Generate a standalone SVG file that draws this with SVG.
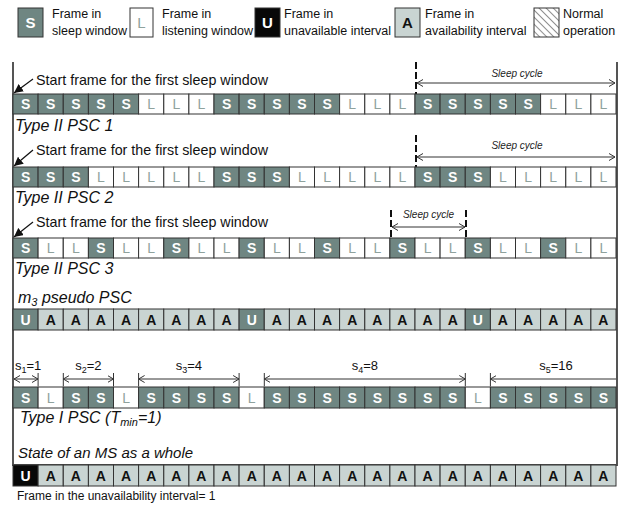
<svg xmlns="http://www.w3.org/2000/svg" width="624" height="506" viewBox="0 0 624 506">
<style>
text{font-family:"Liberation Sans",Arial,sans-serif}
.lg{font-size:12.5px;fill:#111}
.lbl{font-size:14.3px;fill:#111}
.it{font-style:italic;font-size:16px}
.sc{font-size:10px;font-style:italic;fill:#222;text-anchor:middle}
.sl{font-size:13px;fill:#111}
.c{stroke:#333;stroke-width:1}
.s{fill:#6f8682}.l{fill:#fff}.a{fill:#c9d4d2}.k{fill:#080808}
.t{font-size:14px;font-weight:bold;text-anchor:middle}
.ts{fill:#fff}.tl{fill:#8fa29d;font-weight:normal}.ta{fill:#111}
.fr{stroke:#555;stroke-width:2;fill:none}
.dl{stroke:#111;stroke-width:2;stroke-dasharray:7 3;fill:none}
.ar{stroke:#333;stroke-width:1;fill:none;marker-start:url(#oa);marker-end:url(#oa)}
.tk{stroke:#333;stroke-width:1}
</style>
<defs>
<marker id="oa" viewBox="0 0 6 8" refX="6" refY="4" markerWidth="6" markerHeight="8" markerUnits="userSpaceOnUse" orient="auto-start-reverse"><path d="M0,0.5 L6,4 L0,7.5" fill="none" stroke="#333" stroke-width="1"/></marker>
<marker id="fa" viewBox="0 0 10 10" refX="10" refY="5" markerWidth="9" markerHeight="9" markerUnits="userSpaceOnUse" orient="auto"><path d="M0,0 L10,5 L0,10 Z" fill="#111"/></marker>
<pattern id="hatch" width="5" height="5" patternUnits="userSpaceOnUse" patternTransform="rotate(-45)"><line x1="0" y1="0" x2="0" y2="5" stroke="#222" stroke-width="1"/></pattern>
</defs>
<rect width="624" height="506" fill="#fff"/>

<g id="legend">
<g id="leg-s"><rect class="c s" x="18" y="8" width="25" height="29"/><text class="t ts" x="30.5" y="28" style="font-size:15px">S</text><text class="lg" x="52" y="18">Frame in</text><text class="lg" x="52" y="35">sleep window</text></g>
<g id="leg-l"><rect class="c l" x="130" y="8" width="23" height="29"/><text class="t tl" x="141.5" y="28" style="font-size:15px">L</text><text class="lg" x="162" y="18">Frame in</text><text class="lg" x="162" y="35">listening window</text></g>
<g id="leg-u"><rect class="c k" x="255" y="8" width="25" height="29"/><text class="t ts" x="267.5" y="28" style="font-size:15px">U</text><text class="lg" x="284" y="18">Frame in</text><text class="lg" x="284" y="35">unavailable interval</text></g>
<g id="leg-a"><rect class="c a" x="395" y="8" width="25" height="29"/><text class="t ta" x="407.5" y="28" style="font-size:15px">A</text><text class="lg" x="425" y="18">Frame in</text><text class="lg" x="425" y="35">availability interval</text></g>
<g id="leg-n"><rect x="534" y="8" width="25" height="29" fill="url(#hatch)" stroke="#333"/><text class="lg" x="563" y="18">Normal</text><text class="lg" x="563" y="35">operation</text></g>
</g>

<g id="frame">
<path class="fr" d="M13,62 V465 H617 V62"/>
</g>

<g id="labels">
<text class="lbl" x="36" y="85">Start frame for the first sleep window</text>
<text class="lbl it" x="15" y="131">Type II PSC 1</text>
<text class="lbl" x="36" y="155">Start frame for the first sleep window</text>
<text class="lbl it" x="15" y="203">Type II PSC 2</text>
<text class="lbl" x="36" y="227">Start frame for the first sleep window</text>
<text class="lbl it" x="15" y="274">Type II PSC 3</text>
<text class="lbl it" x="18" y="303">m<tspan font-size="11" dy="3">3</tspan><tspan dy="-3"> pseudo PSC</tspan></text>
<text class="lbl it" x="20" y="423">Type I PSC (T<tspan font-size="11" dy="3">min</tspan><tspan dy="-3">=1)</tspan></text>
<text class="lbl it" x="18" y="458" style="font-size:15px">State of an MS as a whole</text>
<text class="lg" x="17" y="500" style="font-size:12px">Frame in the unavailability interval= 1</text>
</g>

<g id="connectors">
<line x1="33" y1="79" x2="14" y2="93" stroke="#111" stroke-width="1.2" marker-end="url(#fa)"/>
<line x1="33" y1="150" x2="14" y2="166" stroke="#111" stroke-width="1.2" marker-end="url(#fa)"/>
<line x1="33" y1="222" x2="14" y2="237" stroke="#111" stroke-width="1.2" marker-end="url(#fa)"/>
<line class="dl" x1="416" y1="62" x2="416" y2="94"/>
<line class="ar" x1="417" y1="83" x2="615" y2="83"/>
<text class="sc" x="517" y="77">Sleep cycle</text>
<line class="dl" x1="416" y1="135" x2="416" y2="167"/>
<line class="ar" x1="417" y1="157" x2="615" y2="157"/>
<text class="sc" x="517" y="149">Sleep cycle</text>
<line class="dl" x1="391" y1="210" x2="391" y2="238"/>
<line class="dl" x1="466" y1="210" x2="466" y2="238"/>
<line class="ar" x1="392" y1="227" x2="465" y2="227"/>
<text class="sc" x="428.5" y="218">Sleep cycle</text>
<line class="tk" x1="38.1" y1="373" x2="38.1" y2="386"/>
<line class="ar" x1="14" y1="379" x2="38" y2="379"/>
<line class="tk" x1="63.3" y1="373" x2="63.3" y2="386"/>
<line class="tk" x1="113.5" y1="373" x2="113.5" y2="386"/>
<line class="ar" x1="63.3" y1="379" x2="113.5" y2="379"/>
<line class="tk" x1="138.6" y1="373" x2="138.6" y2="386"/>
<line class="tk" x1="239.1" y1="373" x2="239.1" y2="386"/>
<line class="ar" x1="138.6" y1="379" x2="239.1" y2="379"/>
<line class="tk" x1="264.3" y1="373" x2="264.3" y2="386"/>
<line class="tk" x1="465.3" y1="373" x2="465.3" y2="386"/>
<line class="ar" x1="264.3" y1="379" x2="465.3" y2="379"/>
<line class="tk" x1="490.4" y1="373" x2="490.4" y2="386"/>
<line x1="490.4" y1="379" x2="616" y2="379" stroke="#333" stroke-width="1" marker-start="url(#oa)"/>
<text class="sl" x="15" y="370">s<tspan font-size="9" dy="3">1</tspan><tspan dy="-3">=1</tspan></text>
<text class="sl" x="88.4" y="370" text-anchor="middle">s<tspan font-size="9" dy="3">2</tspan><tspan dy="-3">=2</tspan></text>
<text class="sl" x="188.9" y="370" text-anchor="middle">s<tspan font-size="9" dy="3">3</tspan><tspan dy="-3">=4</tspan></text>
<text class="sl" x="364.8" y="370" text-anchor="middle">s<tspan font-size="9" dy="3">4</tspan><tspan dy="-3">=8</tspan></text>
<text class="sl" x="556" y="370" text-anchor="middle">s<tspan font-size="9" dy="3">5</tspan><tspan dy="-3">=16</tspan></text>
</g>

<g id="row1" transform="translate(0,94)">
<rect class="c s" x="13" width="25.1" height="20"/><text class="t ts" x="25.6" y="15">S</text>
<rect class="c s" x="38.1" width="25.1" height="20"/><text class="t ts" x="50.7" y="15">S</text>
<rect class="c s" x="63.3" width="25.1" height="20"/><text class="t ts" x="75.8" y="15">S</text>
<rect class="c s" x="88.4" width="25.1" height="20"/><text class="t ts" x="100.9" y="15">S</text>
<rect class="c s" x="113.5" width="25.1" height="20"/><text class="t ts" x="126.1" y="15">S</text>
<rect class="c l" x="138.6" width="25.1" height="20"/><text class="t tl" x="151.2" y="15">L</text>
<rect class="c l" x="163.8" width="25.1" height="20"/><text class="t tl" x="176.3" y="15">L</text>
<rect class="c l" x="188.9" width="25.1" height="20"/><text class="t tl" x="201.4" y="15">L</text>
<rect class="c s" x="214" width="25.1" height="20"/><text class="t ts" x="226.6" y="15">S</text>
<rect class="c s" x="239.1" width="25.1" height="20"/><text class="t ts" x="251.7" y="15">S</text>
<rect class="c s" x="264.3" width="25.1" height="20"/><text class="t ts" x="276.8" y="15">S</text>
<rect class="c s" x="289.4" width="25.1" height="20"/><text class="t ts" x="301.9" y="15">S</text>
<rect class="c s" x="314.5" width="25.1" height="20"/><text class="t ts" x="327.1" y="15">S</text>
<rect class="c l" x="339.6" width="25.1" height="20"/><text class="t tl" x="352.2" y="15">L</text>
<rect class="c l" x="364.8" width="25.1" height="20"/><text class="t tl" x="377.3" y="15">L</text>
<rect class="c l" x="389.9" width="25.1" height="20"/><text class="t tl" x="402.4" y="15">L</text>
<rect class="c s" x="415" width="25.1" height="20"/><text class="t ts" x="427.6" y="15">S</text>
<rect class="c s" x="440.1" width="25.1" height="20"/><text class="t ts" x="452.7" y="15">S</text>
<rect class="c s" x="465.3" width="25.1" height="20"/><text class="t ts" x="477.8" y="15">S</text>
<rect class="c s" x="490.4" width="25.1" height="20"/><text class="t ts" x="502.9" y="15">S</text>
<rect class="c s" x="515.5" width="25.1" height="20"/><text class="t ts" x="528.1" y="15">S</text>
<rect class="c l" x="540.6" width="25.1" height="20"/><text class="t tl" x="553.2" y="15">L</text>
<rect class="c l" x="565.8" width="25.1" height="20"/><text class="t tl" x="578.3" y="15">L</text>
<rect class="c l" x="590.9" width="25.1" height="20"/><text class="t tl" x="603.4" y="15">L</text>
</g>

<g id="row2" transform="translate(0,167)">
<rect class="c s" x="13" width="25.1" height="20"/><text class="t ts" x="25.6" y="15">S</text>
<rect class="c s" x="38.1" width="25.1" height="20"/><text class="t ts" x="50.7" y="15">S</text>
<rect class="c s" x="63.3" width="25.1" height="20"/><text class="t ts" x="75.8" y="15">S</text>
<rect class="c l" x="88.4" width="25.1" height="20"/><text class="t tl" x="100.9" y="15">L</text>
<rect class="c l" x="113.5" width="25.1" height="20"/><text class="t tl" x="126.1" y="15">L</text>
<rect class="c l" x="138.6" width="25.1" height="20"/><text class="t tl" x="151.2" y="15">L</text>
<rect class="c l" x="163.8" width="25.1" height="20"/><text class="t tl" x="176.3" y="15">L</text>
<rect class="c l" x="188.9" width="25.1" height="20"/><text class="t tl" x="201.4" y="15">L</text>
<rect class="c s" x="214" width="25.1" height="20"/><text class="t ts" x="226.6" y="15">S</text>
<rect class="c s" x="239.1" width="25.1" height="20"/><text class="t ts" x="251.7" y="15">S</text>
<rect class="c s" x="264.3" width="25.1" height="20"/><text class="t ts" x="276.8" y="15">S</text>
<rect class="c l" x="289.4" width="25.1" height="20"/><text class="t tl" x="301.9" y="15">L</text>
<rect class="c l" x="314.5" width="25.1" height="20"/><text class="t tl" x="327.1" y="15">L</text>
<rect class="c l" x="339.6" width="25.1" height="20"/><text class="t tl" x="352.2" y="15">L</text>
<rect class="c l" x="364.8" width="25.1" height="20"/><text class="t tl" x="377.3" y="15">L</text>
<rect class="c l" x="389.9" width="25.1" height="20"/><text class="t tl" x="402.4" y="15">L</text>
<rect class="c s" x="415" width="25.1" height="20"/><text class="t ts" x="427.6" y="15">S</text>
<rect class="c s" x="440.1" width="25.1" height="20"/><text class="t ts" x="452.7" y="15">S</text>
<rect class="c s" x="465.3" width="25.1" height="20"/><text class="t ts" x="477.8" y="15">S</text>
<rect class="c l" x="490.4" width="25.1" height="20"/><text class="t tl" x="502.9" y="15">L</text>
<rect class="c l" x="515.5" width="25.1" height="20"/><text class="t tl" x="528.1" y="15">L</text>
<rect class="c l" x="540.6" width="25.1" height="20"/><text class="t tl" x="553.2" y="15">L</text>
<rect class="c l" x="565.8" width="25.1" height="20"/><text class="t tl" x="578.3" y="15">L</text>
<rect class="c l" x="590.9" width="25.1" height="20"/><text class="t tl" x="603.4" y="15">L</text>
</g>

<g id="row3" transform="translate(0,238)">
<rect class="c s" x="13" width="25.1" height="20"/><text class="t ts" x="25.6" y="15">S</text>
<rect class="c l" x="38.1" width="25.1" height="20"/><text class="t tl" x="50.7" y="15">L</text>
<rect class="c l" x="63.3" width="25.1" height="20"/><text class="t tl" x="75.8" y="15">L</text>
<rect class="c s" x="88.4" width="25.1" height="20"/><text class="t ts" x="100.9" y="15">S</text>
<rect class="c l" x="113.5" width="25.1" height="20"/><text class="t tl" x="126.1" y="15">L</text>
<rect class="c l" x="138.6" width="25.1" height="20"/><text class="t tl" x="151.2" y="15">L</text>
<rect class="c s" x="163.8" width="25.1" height="20"/><text class="t ts" x="176.3" y="15">S</text>
<rect class="c l" x="188.9" width="25.1" height="20"/><text class="t tl" x="201.4" y="15">L</text>
<rect class="c l" x="214" width="25.1" height="20"/><text class="t tl" x="226.6" y="15">L</text>
<rect class="c s" x="239.1" width="25.1" height="20"/><text class="t ts" x="251.7" y="15">S</text>
<rect class="c l" x="264.3" width="25.1" height="20"/><text class="t tl" x="276.8" y="15">L</text>
<rect class="c l" x="289.4" width="25.1" height="20"/><text class="t tl" x="301.9" y="15">L</text>
<rect class="c s" x="314.5" width="25.1" height="20"/><text class="t ts" x="327.1" y="15">S</text>
<rect class="c l" x="339.6" width="25.1" height="20"/><text class="t tl" x="352.2" y="15">L</text>
<rect class="c l" x="364.8" width="25.1" height="20"/><text class="t tl" x="377.3" y="15">L</text>
<rect class="c s" x="389.9" width="25.1" height="20"/><text class="t ts" x="402.4" y="15">S</text>
<rect class="c l" x="415" width="25.1" height="20"/><text class="t tl" x="427.6" y="15">L</text>
<rect class="c l" x="440.1" width="25.1" height="20"/><text class="t tl" x="452.7" y="15">L</text>
<rect class="c s" x="465.3" width="25.1" height="20"/><text class="t ts" x="477.8" y="15">S</text>
<rect class="c l" x="490.4" width="25.1" height="20"/><text class="t tl" x="502.9" y="15">L</text>
<rect class="c l" x="515.5" width="25.1" height="20"/><text class="t tl" x="528.1" y="15">L</text>
<rect class="c s" x="540.6" width="25.1" height="20"/><text class="t ts" x="553.2" y="15">S</text>
<rect class="c l" x="565.8" width="25.1" height="20"/><text class="t tl" x="578.3" y="15">L</text>
<rect class="c l" x="590.9" width="25.1" height="20"/><text class="t tl" x="603.4" y="15">L</text>
</g>

<g id="row4" transform="translate(0,309)">
<rect class="c s" x="13" width="25.1" height="21"/><text class="t ts" x="25.6" y="16">U</text>
<rect class="c a" x="38.1" width="25.1" height="21"/><text class="t ta" x="50.7" y="16">A</text>
<rect class="c a" x="63.3" width="25.1" height="21"/><text class="t ta" x="75.8" y="16">A</text>
<rect class="c a" x="88.4" width="25.1" height="21"/><text class="t ta" x="100.9" y="16">A</text>
<rect class="c a" x="113.5" width="25.1" height="21"/><text class="t ta" x="126.1" y="16">A</text>
<rect class="c a" x="138.6" width="25.1" height="21"/><text class="t ta" x="151.2" y="16">A</text>
<rect class="c a" x="163.8" width="25.1" height="21"/><text class="t ta" x="176.3" y="16">A</text>
<rect class="c a" x="188.9" width="25.1" height="21"/><text class="t ta" x="201.4" y="16">A</text>
<rect class="c a" x="214" width="25.1" height="21"/><text class="t ta" x="226.6" y="16">A</text>
<rect class="c s" x="239.1" width="25.1" height="21"/><text class="t ts" x="251.7" y="16">U</text>
<rect class="c a" x="264.3" width="25.1" height="21"/><text class="t ta" x="276.8" y="16">A</text>
<rect class="c a" x="289.4" width="25.1" height="21"/><text class="t ta" x="301.9" y="16">A</text>
<rect class="c a" x="314.5" width="25.1" height="21"/><text class="t ta" x="327.1" y="16">A</text>
<rect class="c a" x="339.6" width="25.1" height="21"/><text class="t ta" x="352.2" y="16">A</text>
<rect class="c a" x="364.8" width="25.1" height="21"/><text class="t ta" x="377.3" y="16">A</text>
<rect class="c a" x="389.9" width="25.1" height="21"/><text class="t ta" x="402.4" y="16">A</text>
<rect class="c a" x="415" width="25.1" height="21"/><text class="t ta" x="427.6" y="16">A</text>
<rect class="c a" x="440.1" width="25.1" height="21"/><text class="t ta" x="452.7" y="16">A</text>
<rect class="c s" x="465.3" width="25.1" height="21"/><text class="t ts" x="477.8" y="16">U</text>
<rect class="c a" x="490.4" width="25.1" height="21"/><text class="t ta" x="502.9" y="16">A</text>
<rect class="c a" x="515.5" width="25.1" height="21"/><text class="t ta" x="528.1" y="16">A</text>
<rect class="c a" x="540.6" width="25.1" height="21"/><text class="t ta" x="553.2" y="16">A</text>
<rect class="c a" x="565.8" width="25.1" height="21"/><text class="t ta" x="578.3" y="16">A</text>
<rect class="c a" x="590.9" width="25.1" height="21"/><text class="t ta" x="603.4" y="16">A</text>
</g>

<g id="row5" transform="translate(0,387)">
<rect class="c s" x="13" width="25.1" height="21"/><text class="t ts" x="25.6" y="16">S</text>
<rect class="c l" x="38.1" width="25.1" height="21"/><text class="t tl" x="50.7" y="16">L</text>
<rect class="c s" x="63.3" width="25.1" height="21"/><text class="t ts" x="75.8" y="16">S</text>
<rect class="c s" x="88.4" width="25.1" height="21"/><text class="t ts" x="100.9" y="16">S</text>
<rect class="c l" x="113.5" width="25.1" height="21"/><text class="t tl" x="126.1" y="16">L</text>
<rect class="c s" x="138.6" width="25.1" height="21"/><text class="t ts" x="151.2" y="16">S</text>
<rect class="c s" x="163.8" width="25.1" height="21"/><text class="t ts" x="176.3" y="16">S</text>
<rect class="c s" x="188.9" width="25.1" height="21"/><text class="t ts" x="201.4" y="16">S</text>
<rect class="c s" x="214" width="25.1" height="21"/><text class="t ts" x="226.6" y="16">S</text>
<rect class="c l" x="239.1" width="25.1" height="21"/><text class="t tl" x="251.7" y="16">L</text>
<rect class="c s" x="264.3" width="25.1" height="21"/><text class="t ts" x="276.8" y="16">S</text>
<rect class="c s" x="289.4" width="25.1" height="21"/><text class="t ts" x="301.9" y="16">S</text>
<rect class="c s" x="314.5" width="25.1" height="21"/><text class="t ts" x="327.1" y="16">S</text>
<rect class="c s" x="339.6" width="25.1" height="21"/><text class="t ts" x="352.2" y="16">S</text>
<rect class="c s" x="364.8" width="25.1" height="21"/><text class="t ts" x="377.3" y="16">S</text>
<rect class="c s" x="389.9" width="25.1" height="21"/><text class="t ts" x="402.4" y="16">S</text>
<rect class="c s" x="415" width="25.1" height="21"/><text class="t ts" x="427.6" y="16">S</text>
<rect class="c s" x="440.1" width="25.1" height="21"/><text class="t ts" x="452.7" y="16">S</text>
<rect class="c l" x="465.3" width="25.1" height="21"/><text class="t tl" x="477.8" y="16">L</text>
<rect class="c s" x="490.4" width="25.1" height="21"/><text class="t ts" x="502.9" y="16">S</text>
<rect class="c s" x="515.5" width="25.1" height="21"/><text class="t ts" x="528.1" y="16">S</text>
<rect class="c s" x="540.6" width="25.1" height="21"/><text class="t ts" x="553.2" y="16">S</text>
<rect class="c s" x="565.8" width="25.1" height="21"/><text class="t ts" x="578.3" y="16">S</text>
<rect class="c s" x="590.9" width="25.1" height="21"/><text class="t ts" x="603.4" y="16">S</text>
</g>

<g id="row6" transform="translate(0,465)">
<rect class="c k" x="13" width="25.1" height="21"/><text class="t ts" x="25.6" y="16">U</text>
<rect class="c a" x="38.1" width="25.1" height="21"/><text class="t ta" x="50.7" y="16">A</text>
<rect class="c a" x="63.3" width="25.1" height="21"/><text class="t ta" x="75.8" y="16">A</text>
<rect class="c a" x="88.4" width="25.1" height="21"/><text class="t ta" x="100.9" y="16">A</text>
<rect class="c a" x="113.5" width="25.1" height="21"/><text class="t ta" x="126.1" y="16">A</text>
<rect class="c a" x="138.6" width="25.1" height="21"/><text class="t ta" x="151.2" y="16">A</text>
<rect class="c a" x="163.8" width="25.1" height="21"/><text class="t ta" x="176.3" y="16">A</text>
<rect class="c a" x="188.9" width="25.1" height="21"/><text class="t ta" x="201.4" y="16">A</text>
<rect class="c a" x="214" width="25.1" height="21"/><text class="t ta" x="226.6" y="16">A</text>
<rect class="c a" x="239.1" width="25.1" height="21"/><text class="t ta" x="251.7" y="16">A</text>
<rect class="c a" x="264.3" width="25.1" height="21"/><text class="t ta" x="276.8" y="16">A</text>
<rect class="c a" x="289.4" width="25.1" height="21"/><text class="t ta" x="301.9" y="16">A</text>
<rect class="c a" x="314.5" width="25.1" height="21"/><text class="t ta" x="327.1" y="16">A</text>
<rect class="c a" x="339.6" width="25.1" height="21"/><text class="t ta" x="352.2" y="16">A</text>
<rect class="c a" x="364.8" width="25.1" height="21"/><text class="t ta" x="377.3" y="16">A</text>
<rect class="c a" x="389.9" width="25.1" height="21"/><text class="t ta" x="402.4" y="16">A</text>
<rect class="c a" x="415" width="25.1" height="21"/><text class="t ta" x="427.6" y="16">A</text>
<rect class="c a" x="440.1" width="25.1" height="21"/><text class="t ta" x="452.7" y="16">A</text>
<rect class="c a" x="465.3" width="25.1" height="21"/><text class="t ta" x="477.8" y="16">A</text>
<rect class="c a" x="490.4" width="25.1" height="21"/><text class="t ta" x="502.9" y="16">A</text>
<rect class="c a" x="515.5" width="25.1" height="21"/><text class="t ta" x="528.1" y="16">A</text>
<rect class="c a" x="540.6" width="25.1" height="21"/><text class="t ta" x="553.2" y="16">A</text>
<rect class="c a" x="565.8" width="25.1" height="21"/><text class="t ta" x="578.3" y="16">A</text>
<rect class="c a" x="590.9" width="25.1" height="21"/><text class="t ta" x="603.4" y="16">A</text>
</g>
</svg>
